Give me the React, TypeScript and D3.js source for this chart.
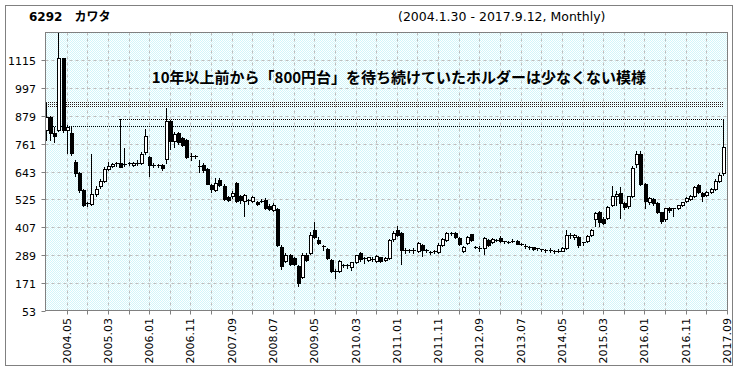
import React from 'react';
import * as d3 from 'd3';

// monthly candles, 2004.01 - 2017.09
const months: string[] = d3.range(165).map(i => `${2004 + Math.floor(i / 12)}.${String((i % 12) + 1).padStart(2, '0')}`);

const opens = [
  819, 873, 805, 819, 1123, 819, 805, 682, 636, 565, 505, 505,
  548, 580, 603, 653, 667, 675, 681, 672, 675, 671, 681, 681,
  725, 706, 671, 668, 671, 695, 857, 774, 805, 784, 777, 710,
  706, 665, 671, 654, 586, 565, 608, 582, 534, 537, 593, 540,
  519, 516, 519, 514, 518, 523, 498, 478, 483, 323, 265, 287,
  276, 243, 196, 290, 297, 396, 354, 325, 314, 266, 222, 222,
  243, 246, 238, 258, 297, 275, 268, 272, 262, 279, 269, 276,
  356, 393, 382, 308, 305, 310, 304, 330, 310, 301, 302, 300,
  332, 352, 380, 380, 361, 304, 340, 376, 322, 318, 318, 354,
  344, 350, 360, 346, 345, 348, 349, 337, 328, 324, 321, 318,
  313, 310, 308, 305, 304, 307, 318, 375, 366, 365, 338, 347,
  375, 441, 471, 442, 445, 502, 540, 551, 509, 498, 540, 675,
  716, 591, 512, 525, 509, 469, 441, 488, 485, 488, 502, 516,
  526, 540, 586, 551, 544, 554, 569, 604, 636,
];
const highs = [
  932, 880, 833, 1250, 1123, 840, 833, 690, 640, 570, 515, 718,
  580, 610, 660, 685, 680, 682, 865, 742, 682, 685, 690, 725,
  822, 710, 678, 675, 675, 911, 862, 810, 810, 790, 780, 720,
  715, 690, 680, 658, 590, 615, 615, 590, 540, 560, 600, 545,
  548, 525, 540, 518, 525, 530, 505, 510, 490, 330, 295, 292,
  280, 248, 295, 298, 385, 430, 365, 330, 318, 270, 228, 268,
  252, 250, 260, 290, 300, 280, 282, 280, 290, 282, 280, 358,
  390, 413, 386, 318, 315, 318, 345, 335, 313, 305, 310, 338,
  360, 385, 386, 385, 365, 325, 370, 378, 326, 325, 366, 358,
  360, 356, 368, 350, 350, 355, 352, 340, 334, 326, 324, 320,
  316, 312, 320, 310, 312, 322, 393, 380, 378, 368, 345, 375,
  400, 470, 475, 448, 498, 580, 560, 579, 515, 540, 665, 732,
  730, 595, 535, 530, 512, 472, 490, 492, 490, 502, 515, 535,
  542, 582, 590, 555, 562, 572, 610, 635, 864,
];
const lows = [
  777, 777, 770, 815, 810, 721, 715, 625, 555, 495, 495, 500,
  540, 575, 600, 650, 660, 668, 660, 668, 670, 668, 672, 675,
  718, 622, 660, 660, 650, 680, 737, 745, 760, 750, 700, 690,
  700, 643, 640, 588, 555, 560, 580, 520, 518, 530, 515, 510,
  455, 505, 515, 500, 512, 485, 480, 475, 325, 231, 258, 248,
  245, 159, 190, 265, 292, 360, 335, 311, 272, 215, 191, 218,
  238, 232, 225, 255, 265, 253, 265, 265, 258, 260, 262, 272,
  350, 370, 252, 298, 300, 295, 300, 283, 303, 292, 295, 297,
  328, 348, 372, 360, 330, 300, 335, 350, 318, 304, 294, 328,
  340, 346, 343, 340, 340, 342, 334, 330, 318, 314, 311, 308,
  306, 303, 300, 298, 300, 304, 315, 360, 355, 323, 333, 343,
  370, 410, 410, 420, 440, 495, 500, 445, 485, 490, 535, 660,
  585, 488, 505, 500, 465, 424, 435, 470, 455, 485, 495, 512,
  520, 535, 550, 516, 540, 550, 565, 600, 630,
];
const closes = [
  873, 805, 794, 1123, 819, 833, 721, 636, 565, 499, 509, 548,
  568, 603, 653, 667, 675, 678, 664, 675, 678, 681, 678, 718,
  794, 671, 668, 671, 657, 857, 774, 802, 770, 756, 706, 706,
  710, 663, 650, 591, 570, 593, 586, 526, 523, 551, 519, 520,
  543, 520, 534, 503, 518, 488, 483, 502, 332, 243, 290, 252,
  252, 168, 290, 269, 375, 363, 340, 326, 276, 222, 220, 265,
  246, 240, 258, 287, 272, 276, 279, 273, 283, 265, 276, 354,
  380, 375, 308, 306, 310, 311, 340, 311, 309, 299, 306, 332,
  356, 380, 381, 365, 335, 322, 366, 354, 321, 320, 362, 332,
  357, 351, 347, 347, 344, 346, 337, 335, 326, 320, 315, 314,
  311, 307, 305, 303, 307, 318, 375, 368, 374, 332, 342, 370,
  396, 466, 428, 424, 492, 537, 547, 509, 492, 537, 657, 716,
  591, 516, 530, 509, 469, 435, 488, 480, 488, 499, 512, 530,
  540, 579, 554, 537, 558, 568, 603, 628, 749,
];

const yTicks = [53, 171, 289, 407, 525, 643, 761, 879, 997, 1115];
const xTickLabels = [
  '2004.05', '2005.03', '2006.01', '2006.11', '2007.09', '2008.07', '2009.05', '2010.03', '2011.01',
  '2011.11', '2012.09', '2013.07', '2014.05', '2015.03', '2016.01', '2016.11', '2017.09',
];
// price lines / band drawn over the chart: [price, start month]
const refBand = { lo: 912, hi: 938, from: '2004.01' };
const refLines = [
  { price: 866, from: '2005.07' },
  { price: 836, from: '2004.01' },
];

const title = '6292\u3000カワタ';
const period = '(2004.1.30 - 2017.9.12, Monthly)';
const note = '10年以上前から「800円台」を待ち続けていたホルダーは少なくない模様';

const candles = months.map((m, i) => ({ m, o: opens[i], h: highs[i], l: lows[i], c: closes[i] }));

export default function App() {
  const W = 739;
  const H = 371;
  const left = 45.5, right = 727.5, top = 32.5, bottom = 310.5;

  const x = d3.scaleBand<string>().domain(months).range([46, 727]).padding(0);
  const step = x.step();
  const y = d3.scaleLinear().domain([53, 1233]).range([bottom, top]);

  const cx = (m: string) => Math.round((x(m) as number) + step / 2 - 1);
  // tick every 5 months, ending at the last month
  const tickMonths = months.filter((_, i) => (i - 4) % 5 === 0);
  const tickX = (m: string) => Math.round((x(m) as number) + step) + 0.5;
  const py = (v: number) => Math.round(y(v)) + 0.5;

  const font = '"DejaVu Sans", Verdana, "Noto Sans CJK JP", sans-serif';

  return (
    <svg width={W} height={H} style={{ position: 'absolute', left: 0, top: 0, background: '#fff' }} fontFamily={font}>
      <defs>
        <pattern id="bgdots" width={2} height={2} patternUnits="userSpaceOnUse">
          <rect width={2} height={2} fill="#ffffff" />
          <rect x={0} y={0} width={1} height={1} fill="#d2f6fa" />
          <rect x={1} y={1} width={1} height={1} fill="#d2f6fa" />
        </pattern>
        <pattern id="banddots" width={2} height={2} patternUnits="userSpaceOnUse">
          <rect x={0} y={0} width={1} height={1} fill="#222" />
        </pattern>
        <clipPath id="plotclip">
          <rect x={left} y={top} width={right - left} height={bottom - top} />
        </clipPath>
      </defs>

      <rect x={5.5} y={5.5} width={727} height={360} fill="#fff" stroke="#808080" />

      <text x={29} y={21} fontSize={12} fontWeight="bold" fill="#000">{title}</text>
      <text x={398} y={21} fontSize={12.5} fill="#000">{period}</text>

      <rect x={left} y={top} width={right - left} height={bottom - top} fill="url(#bgdots)" />

      {/* grid */}
      {yTicks.slice(1).map(t => (
        <line key={t} x1={left} x2={right} y1={py(t)} y2={py(t)} stroke="#bdbdbd" strokeDasharray="3,3" />
      ))}
      {tickMonths.map(m => (
        <line key={m} x1={tickX(m)} x2={tickX(m)} y1={top} y2={bottom} stroke="#bdbdbd" strokeDasharray="3,3" />
      ))}

      <g clipPath="url(#plotclip)">
        <rect
          x={cx(refBand.from) - 2} y={Math.round(y(refBand.hi))}
          width={cx(months[months.length - 1]) - cx(refBand.from) + 2}
          height={Math.round(y(refBand.lo)) - Math.round(y(refBand.hi))}
          fill="url(#banddots)"
        />
        {refLines.map(r => (
          <line key={r.price} x1={cx(r.from) - 2} x2={cx(months[months.length - 1])} y1={py(r.price)} y2={py(r.price)}
            stroke="#000" strokeDasharray="1,1" />
        ))}

        {candles.map(d => {
          const c = cx(d.m);
          const up = d.c >= d.o;
          const yt = Math.round(y(Math.max(d.o, d.c)));
          const yb = Math.round(y(Math.min(d.o, d.c)));
          return (
            <g key={d.m}>
              <line x1={c - 0.5} x2={c - 0.5} y1={Math.round(y(d.h))} y2={Math.round(y(d.l)) + 1} stroke="#000" />
              {yb - yt <= 1 ? (
                <line x1={c - 2} x2={c + 2} y1={yt + 0.5} y2={yt + 0.5} stroke="#000" />
              ) : (
                <rect x={c - 1.5} y={yt + 0.5} width={3} height={yb - yt} fill={up ? '#fff' : '#000'} stroke="#000" />
              )}
            </g>
          );
        })}
      </g>

      <text x={399} y={83} textAnchor="middle" fontSize={15} fontWeight="bold" fill="#000"
        fontFamily='"Noto Sans CJK JP", sans-serif'>{note}</text>

      {/* axes */}
      <rect x={left} y={top} width={right - left} height={bottom - top} fill="none" stroke="#808080" />
      {yTicks.map(t => (
        <g key={t}>
          <line x1={left - 4} x2={left} y1={py(t)} y2={py(t)} stroke="#808080" />
          <text x={36} y={py(t) + 4} textAnchor="end" fontSize={11} fill="#000">{t}</text>
        </g>
      ))}
      {tickMonths.map(m => (
        <line key={m} x1={tickX(m)} x2={tickX(m)} y1={bottom} y2={bottom + 4} stroke="#808080" />
      ))}
      {xTickLabels.map(m => (
        <text key={m} transform={`translate(${tickX(m)},318) rotate(-90)`} textAnchor="end" dy="0.35em"
          fontSize={11} fill="#000">{m}</text>
      ))}
    </svg>
  );
}
